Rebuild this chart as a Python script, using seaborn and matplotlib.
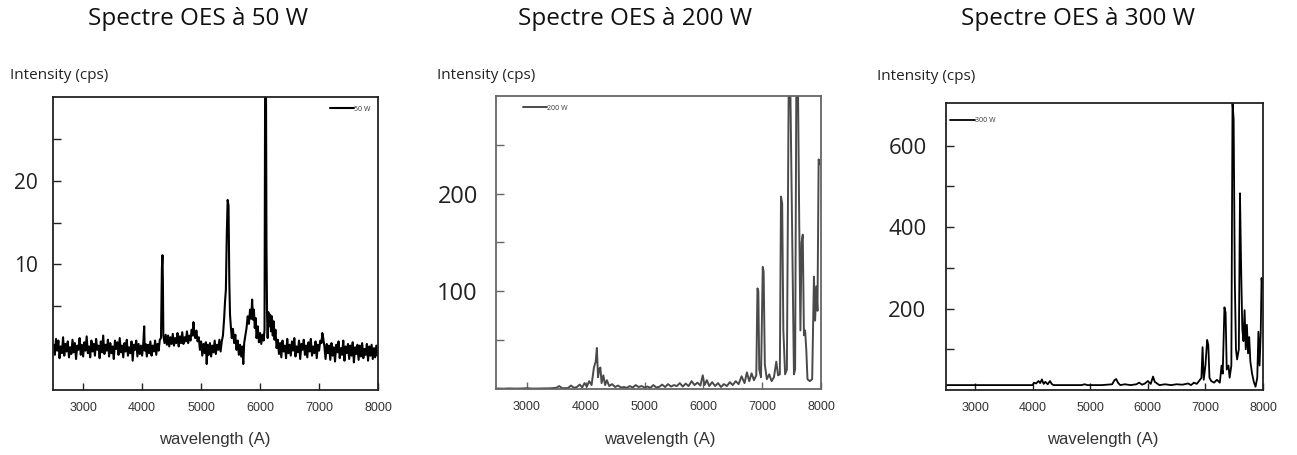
import numpy as np
import pandas as pd
import matplotlib
matplotlib.use("Agg")
import matplotlib.pyplot as plt
import seaborn as sns

sns.set_style("ticks")
plt.rcParams['font.family'] = ['Open Sans', 'DejaVu Sans']

# --- data (wavelength in A, intensity in cps) ---
titles = ["Spectre OES à 50 W", "Spectre OES à 200 W", "Spectre OES à 300 W"]
legend_labels = ["50 W", "200 W", "300 W"]

spec_50 = [
    (2500, 0.4), (2520, -0.8), (2540, 1.1), (2560, -0.3), (2580, 0.9), (2600, -1.2), (2620, 0.2),
    (2640, -0.6), (2660, 1.3), (2680, -0.9), (2700, 0.5), (2720, -0.4), (2740, 0.8), (2760, -1.1),
    (2780, 0.1), (2800, -0.7), (2820, 1.0), (2840, -0.5), (2860, 0.6), (2880, -1.3), (2900, 0.3),
    (2920, -0.2), (2940, 1.2), (2960, -0.8), (2980, 0.4), (3000, -1.0), (3020, 0.7), (3040, -0.3),
    (3060, 1.4), (3080, -0.6), (3100, 0.2), (3120, -1.1), (3140, 0.9), (3160, -0.4), (3180, 0.5),
    (3200, -0.9), (3220, 1.1), (3240, -0.2), (3260, 0.3), (3280, -1.2), (3300, 0.8), (3320, -0.5),
    (3340, 1.5), (3360, -0.7), (3380, 0.4), (3400, -0.3), (3420, 1.0), (3440, -1.0), (3460, 0.6),
    (3480, -0.6), (3500, 0.2), (3520, -1.3), (3540, 0.9), (3560, -0.1), (3580, 0.7), (3600, -0.8),
    (3620, 1.2), (3640, -0.5), (3660, 0.3), (3680, -1.1), (3700, 0.6), (3720, -0.4), (3740, 1.0),
    (3760, -0.9), (3780, 0.1), (3800, -0.6), (3820, 0.8), (3840, -1.5), (3860, 0.4), (3880, -0.2),
    (3900, 0.9), (3920, -1.0), (3940, 0.5), (3960, -0.7), (3980, 0.3), (4000, -0.9), (4020, 0.6),
    (4035, 2.6), (4045, -0.3), (4060, 0.5), (4080, -1.0), (4100, 0.4), (4120, -0.6), (4140, 0.8),
    (4160, -0.9), (4180, 0.3), (4200, -0.4), (4220, 0.9), (4240, -0.8), (4260, 0.5), (4280, -0.3),
    (4300, 1.0), (4320, 1.2), (4335, 9.5), (4345, 11.1), (4352, 8.0), (4360, 1.5),
    (4380, 0.6), (4400, 1.6), (4420, 0.4), (4440, 1.5), (4460, 0.2), (4480, 1.3), (4500, 0.5),
    (4520, 1.7), (4540, 0.3), (4560, 1.2), (4580, 0.6), (4600, 1.8), (4620, 0.2), (4640, 1.4),
    (4660, 0.6), (4680, 1.9), (4700, 0.5), (4720, 1.3), (4740, 0.8), (4760, 2.0), (4780, 0.6),
    (4800, 1.5), (4820, 0.9), (4840, 2.2), (4860, 1.5), (4870, 3.1), (4880, 2.0), (4900, 1.2),
    (4920, 2.1), (4940, 0.8), (4960, 1.3), (4980, -0.2), (5000, 0.8), (5020, -0.9), (5040, 0.5),
    (5060, -0.6), (5080, 0.7), (5095, -1.9), (5110, 0.4), (5130, -0.8), (5150, 0.6), (5170, -1.0),
    (5190, 0.3), (5210, -0.5), (5230, 0.9), (5250, -0.7), (5270, 0.4), (5290, -0.2), (5310, 1.0),
    (5330, -0.4), (5350, 0.8), (5370, 1.5),
    (5390, 3.5), (5405, 5.5), (5420, 7.0), (5435, 13.5), (5450, 17.7), (5465, 17.0), (5478, 8.0),
    (5490, 4.0), (5505, 2.5), (5520, 1.2), (5540, 2.3), (5560, 0.6), (5580, 1.6), (5600, -0.2),
    (5620, 0.9), (5640, -0.8), (5660, 0.4), (5680, -1.0), (5700, 0.2), (5715, -1.9), (5730, 0.6),
    (5750, 1.5), (5770, 2.4), (5790, 3.8), (5810, 2.9), (5830, 4.6), (5850, 3.5), (5865, 5.8),
    (5880, 3.4), (5895, 4.6), (5910, 2.4), (5925, 3.6), (5940, 1.2), (5960, 2.6), (5980, 0.7),
    (6000, 1.8), (6020, 0.5), (6040, 1.6), (6060, 0.9), (6075, 2.2),
    (6085, 31.0), (6100, 31.0), (6108, 12.3), (6118, 4.0), (6128, 1.2), (6140, 4.3), (6155, 2.6),
    (6170, 4.0), (6185, 2.0), (6200, 3.8), (6215, 1.5), (6230, 3.2), (6245, 1.0), (6260, 2.2),
    (6280, 0.0),
    (6300, 1.0), (6320, -0.7), (6340, 0.6), (6360, -1.1), (6380, 0.9), (6400, -0.4), (6420, 0.3),
    (6440, -1.2), (6460, 1.1), (6480, -0.6), (6500, 0.4), (6520, -0.9), (6540, 0.8), (6560, -0.3),
    (6580, 1.2), (6600, -1.0), (6620, 0.2), (6640, -0.5), (6660, 0.9), (6680, -1.3), (6700, 0.5),
    (6720, -0.2), (6740, 1.0), (6760, -0.8), (6780, 0.3), (6800, -1.1), (6820, 0.7), (6840, -0.4),
    (6860, 1.1), (6880, -0.9), (6900, 0.2), (6920, -0.6), (6940, 0.8), (6960, -1.2), (6980, 0.4),
    (7000, -0.3), (7020, 0.9), (7040, 0.6), (7055, 1.8), (7070, 1.2), (7090, 0.2), (7110, -1.3),
    (7130, 0.5), (7150, -0.6), (7170, 0.3), (7190, -1.4), (7210, 0.6), (7230, -0.9), (7250, 0.1),
    (7270, -1.6), (7290, 0.4), (7310, -0.5), (7330, 0.8), (7350, -1.2), (7370, 0.0), (7390, -0.8),
    (7410, 0.9), (7430, -1.5), (7450, 0.2), (7470, -0.6), (7490, 0.5), (7510, -1.3), (7530, 0.3),
    (7550, -0.9), (7570, 0.7), (7590, -1.7), (7610, 0.1), (7630, -0.7), (7650, 0.4), (7670, -1.4),
    (7690, 0.3), (7710, -1.0), (7730, 0.6), (7750, -1.2), (7770, -0.1), (7790, -0.8), (7810, 0.5),
    (7830, -1.5), (7850, 0.2), (7870, -0.9), (7890, 0.4), (7910, -1.3), (7930, 0.0), (7950, -1.1),
    (7970, 0.3), (7990, -0.9), (8000, -0.4),
]

spec_200 = [
    (2500, 0.5), (2600, 0.3), (2700, 0.6), (2800, 0.4), (2900, 0.5), (3000, 0.8), (3100, 0.4),
    (3200, 0.5), (3300, 0.6), (3400, 0.7), (3500, 1.2), (3550, 3.0), (3600, 0.8), (3700, 1.0),
    (3750, 3.5), (3800, 1.2), (3850, 2.0), (3900, 4.5), (3940, 1.5), (3980, 6.0), (4020, 2.5),
    (4060, 8.0), (4100, 4.0), (4140, 22.0), (4170, 28.0), (4190, 42.0), (4210, 12.0), (4230, 20.0),
    (4250, 22.0), (4270, 6.0), (4300, 14.0), (4330, 4.0), (4360, 9.0), (4400, 3.0), (4450, 5.0),
    (4500, 2.0), (4550, 3.5), (4600, 1.5), (4650, 2.0), (4700, 1.2), (4750, 3.0), (4800, 1.5),
    (4850, 4.0), (4900, 2.0), (4950, 3.0), (5000, 1.5), (5050, 2.5), (5100, 1.2), (5150, 4.0),
    (5200, 1.5), (5250, 2.2), (5300, 4.5), (5350, 2.0), (5400, 5.0), (5450, 2.5), (5500, 4.0),
    (5550, 3.0), (5600, 6.0), (5650, 2.5), (5700, 5.5), (5750, 3.0), (5800, 8.0), (5850, 4.0),
    (5900, 6.5), (5950, 3.5), (5990, 14.0), (6020, 4.0), (6060, 9.0), (6100, 3.0), (6150, 7.0),
    (6200, 3.0), (6250, 6.0), (6300, 2.0), (6350, 5.0), (6400, 3.0), (6450, 7.0), (6500, 4.0),
    (6550, 8.0), (6600, 5.0), (6650, 13.0), (6700, 6.0), (6740, 17.0), (6780, 8.0), (6820, 16.0),
    (6860, 9.0), (6900, 14.0), (6920, 103.0), (6935, 100.0), (6950, 20.0), (6980, 12.0),
    (7010, 125.0), (7025, 120.0), (7045, 25.0), (7080, 10.0), (7120, 15.0), (7160, 8.0),
    (7200, 12.0), (7240, 28.0), (7270, 14.0), (7300, 15.0), (7320, 197.0), (7340, 190.0),
    (7360, 60.0), (7390, 15.0), (7420, 20.0), (7450, 302.0), (7480, 302.0), (7510, 160.0),
    (7540, 15.0), (7560, 20.0), (7580, 302.0), (7610, 302.0), (7630, 170.0), (7650, 60.0),
    (7670, 150.0), (7690, 158.0), (7710, 55.0), (7730, 60.0), (7750, 40.0), (7770, 10.0),
    (7810, 8.0), (7850, 10.0), (7880, 115.0), (7900, 70.0), (7920, 105.0), (7940, 80.0),
    (7960, 235.0), (7980, 230.0),
]

spec_300 = [
    (2500, 12), (2700, 12), (2900, 12), (3100, 12), (3300, 12), (3500, 12), (3700, 12),
    (3900, 12), (4000, 12), (4020, 18), (4060, 16), (4100, 22), (4130, 17), (4160, 26),
    (4190, 15), (4220, 20), (4260, 14), (4300, 22), (4330, 15), (4360, 12), (4500, 12),
    (4700, 12), (4850, 12), (4900, 14), (4950, 12), (5200, 12), (5380, 14), (5420, 24),
    (5450, 27), (5480, 18), (5520, 12), (5600, 14), (5700, 12), (5800, 14), (5850, 18),
    (5900, 13), (5950, 16), (6000, 22), (6050, 15), (6090, 33), (6120, 20), (6150, 17),
    (6200, 12), (6300, 14), (6400, 12), (6500, 14), (6600, 13), (6700, 16), (6750, 12),
    (6800, 18), (6850, 15), (6900, 24), (6930, 30), (6950, 105), (6970, 25), (7000, 60),
    (7030, 123), (7050, 110), (7070, 30), (7100, 22), (7150, 18), (7200, 25), (7250, 18),
    (7280, 60), (7300, 40), (7330, 203), (7350, 190), (7370, 50), (7400, 60), (7420, 30),
    (7450, 60), (7470, 705), (7490, 665), (7510, 270), (7530, 100), (7550, 75), (7580, 100),
    (7600, 483), (7620, 300), (7640, 150), (7660, 120), (7680, 196), (7700, 100), (7720, 160),
    (7740, 90), (7760, 130), (7780, 70), (7810, 40), (7840, 20), (7870, 8), (7900, 30),
    (7920, 143), (7940, 60), (7960, 140), (7975, 275), (7990, 250),
]

spectra = [spec_50, spec_200, spec_300]

ylims = [(-5, 30), (0, 300), (0, 705)]
major_y = [[10, 20], [100, 200], [200, 400, 600]]
minor_y = [[5, 15, 25], [50, 150, 250], [100, 300, 500]]
xticks = [3000, 4000, 5000, 6000, 7000, 8000]

fig = plt.figure(figsize=(12.97, 4.55), dpi=100)
positions = [
    [0.0409, 0.1429, 0.2506, 0.644],
    [0.3824, 0.1451, 0.2506, 0.644],
    [0.7294, 0.1429, 0.2444, 0.631],
]
xlims = [(2490, 8000), (2475, 8000), (2495, 8000)]
line_colors = ["black", "#4a4a4a", "black"]
line_widths = [1.5, 1.4, 1.3]
spine_colors = ["#222222", "#666666", "#222222"]
ytick_sizes = [15, 17, 16]
ytick_pads = [11, 13, 14]
legend_anchor = [(0.99, 0.985), (0.07, 0.985), (0.0, 0.965)]
legend_loc = ["upper right", "upper left", "upper left"]

for i, pos in enumerate(positions):
    ax = fig.add_axes(pos)
    df = pd.DataFrame(spectra[i], columns=["wavelength", "intensity"])
    sns.lineplot(data=df, x="wavelength", y="intensity", ax=ax, color=line_colors[i],
                 linewidth=line_widths[i], estimator=None, sort=False, label=legend_labels[i])
    ax.set_xlim(*xlims[i])
    ax.set_ylim(*ylims[i])
    ax.set_xticks(xticks)
    ax.set_yticks(major_y[i])
    ax.set_yticks(minor_y[i], minor=True)
    ax.set_xlabel("")
    ax.set_ylabel("")
    for s in ax.spines.values():
        s.set_visible(True)
        s.set_color(spine_colors[i])
        s.set_linewidth(1.3)
    ax.tick_params(axis="x", direction="in", length=5, width=1, pad=9,
                   labelsize=9, labelcolor="#333333", colors=spine_colors[i])
    ax.tick_params(axis="y", which="both", direction="in", length=6, width=1,
                   pad=ytick_pads[i], labelsize=ytick_sizes[i], colors=spine_colors[i],
                   labelcolor="#222222")
    for lab in ax.get_xticklabels():
        lab.set_family(["Liberation Sans Narrow", "Liberation Sans", "DejaVu Sans"])
    leg = ax.legend(loc=legend_loc[i], bbox_to_anchor=legend_anchor[i], frameon=False,
                    fontsize=5, handlelength=3.5, handletextpad=0.0, borderaxespad=0.2)
    for t in leg.get_texts():
        t.set_color("#333333")

title_x = [0.1527, 0.4896, 0.8312]
for tx, t in zip(title_x, titles):
    fig.text(tx, 0.958, t, ha="center", va="center", fontsize=17.5, color="#111111")

ylab_pos = [(0.0077, 0.835), (0.337, 0.835), (0.676, 0.831)]
for (x, y) in ylab_pos:
    fig.text(x, y, "Intensity (cps)", ha="left", va="center", fontsize=11, color="#222222")

xlab_x = [0.1658, 0.5089, 0.8504]
for x in xlab_x:
    fig.text(x, 0.033, "wavelength (A)", ha="center", va="center", fontsize=12,
             color="#333333", family=["Liberation Sans", "DejaVu Sans"])

fig.savefig("out.png", dpi=100)
